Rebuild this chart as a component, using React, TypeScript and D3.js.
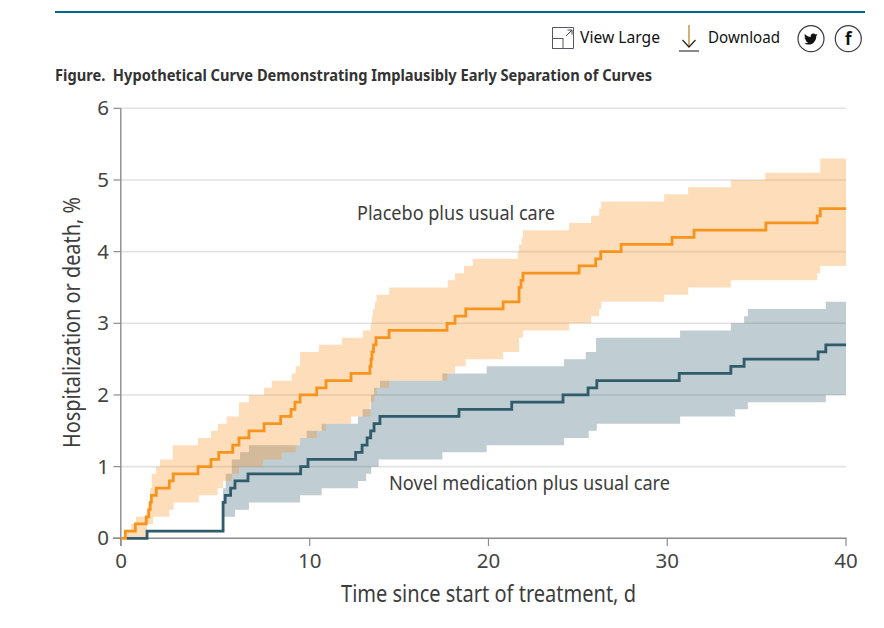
import React from "react";
import * as d3 from "d3";

const placeboDays = [0, 0.23, 0.76, 1.34, 1.47, 1.55, 1.61, 1.87, 2.56, 2.77, 4.08, 4.77, 5.18, 5.92, 6.25, 6.78, 7.58, 8.46, 9.01, 9.22, 9.49, 10.39, 10.91, 12.31, 13.37, 13.43, 13.48, 13.57, 13.71, 14.44, 17.68, 18.13, 18.73, 20.82, 21.71, 21.82, 21.93, 25.07, 26.0, 26.28, 27.42, 30.27, 31.5, 35.52, 38.39, 38.56, 40];
const placeboRisk = [0, 0.1, 0.2, 0.3, 0.4, 0.5, 0.6, 0.7, 0.8, 0.9, 1.0, 1.1, 1.2, 1.3, 1.4, 1.5, 1.6, 1.7, 1.8, 1.9, 2.0, 2.1, 2.2, 2.3, 2.4, 2.5, 2.6, 2.7, 2.8, 2.9, 3.0, 3.1, 3.2, 3.3, 3.5, 3.6, 3.7, 3.8, 3.9, 4.0, 4.1, 4.2, 4.3, 4.4, 4.5, 4.6, 4.6];

const placeboUpperDays = [0, 0.23, 0.53, 0.79, 1.36, 1.44, 1.54, 1.63, 1.86, 2.07, 2.74, 4.08, 4.77, 5.13, 5.6, 6.25, 6.78, 7.58, 7.99, 9.05, 9.26, 9.49, 10.52, 11.8, 12.98, 13.41, 13.48, 13.54, 13.65, 13.74, 14.44, 17.72, 18.13, 18.63, 19.12, 21.64, 21.71, 21.85, 21.93, 24.51, 25.74, 26.19, 26.3, 29.83, 31.17, 33.56, 35.48, 38.56, 40];
const placeboUpper = [0, 0.1, 0.2, 0.3, 0.4, 0.5, 0.7, 0.9, 1.0, 1.1, 1.3, 1.4, 1.5, 1.6, 1.7, 1.9, 2.0, 2.1, 2.2, 2.3, 2.4, 2.6, 2.7, 2.8, 2.9, 3.0, 3.1, 3.2, 3.3, 3.4, 3.5, 3.6, 3.7, 3.8, 3.9, 4.0, 4.1, 4.2, 4.3, 4.4, 4.5, 4.6, 4.7, 4.8, 4.9, 5.0, 5.1, 5.3, 5.3];

const placeboLowerDays = [0, 1.38, 1.7, 2.56, 2.79, 4.13, 5.12, 5.41, 5.87, 6.25, 7.53, 8.52, 9.26, 9.49, 10.39, 10.91, 12.31, 13.4, 13.6, 13.75, 14.45, 17.7, 18.13, 18.73, 20.82, 21.71, 21.93, 24.51, 25.74, 26.19, 26.3, 29.83, 31.17, 33.56, 38.39, 38.56, 40];
const placeboLower = [0, 0.2, 0.3, 0.4, 0.5, 0.6, 0.7, 0.8, 0.9, 1.0, 1.1, 1.2, 1.3, 1.4, 1.5, 1.6, 1.7, 1.9, 2.0, 2.1, 2.2, 2.3, 2.4, 2.5, 2.6, 2.8, 2.9, 3.0, 3.1, 3.2, 3.3, 3.4, 3.5, 3.6, 3.7, 3.8, 3.8];

const novelDays = [0.3, 1.38, 5.41, 5.52, 5.81, 6.04, 6.73, 9.52, 9.91, 12.57, 12.93, 13.21, 13.41, 13.6, 13.93, 18.35, 21.3, 24.17, 25.57, 26.06, 30.67, 33.56, 34.3, 38.44, 38.87, 40];
const novelRisk = [0, 0.1, 0.5, 0.6, 0.7, 0.8, 0.9, 1.0, 1.1, 1.2, 1.3, 1.4, 1.5, 1.6, 1.7, 1.8, 1.9, 2.0, 2.1, 2.2, 2.3, 2.4, 2.5, 2.6, 2.7, 2.7];

const novelUpperDays = [0.3, 1.38, 5.41, 5.55, 5.87, 6.31, 6.78, 9.49, 9.84, 10.67, 12.7, 12.96, 13.43, 13.6, 13.93, 17.42, 19.9, 24.23, 25.44, 26.02, 30.72, 33.56, 34.3, 34.51, 38.87, 40];
const novelUpper = [0, 0.1, 0.7, 0.9, 1.1, 1.2, 1.3, 1.4, 1.5, 1.6, 1.7, 1.8, 2.0, 2.1, 2.2, 2.3, 2.4, 2.5, 2.6, 2.8, 2.9, 3.0, 3.1, 3.2, 3.3, 3.3];

const novelLowerDays = [0.3, 1.38, 5.41, 6.04, 6.78, 9.49, 10.67, 12.7, 13.16, 13.44, 13.86, 17.42, 19.9, 24.23, 25.61, 26.06, 30.72, 33.8, 34.51, 38.87, 40];
const novelLower = [0, 0.1, 0.3, 0.4, 0.5, 0.6, 0.7, 0.8, 0.9, 1.0, 1.1, 1.2, 1.3, 1.4, 1.5, 1.6, 1.7, 1.8, 1.9, 2.0, 2.0];

const xTicks = [0, 10, 20, 30, 40];
const yTicks = [0, 1, 2, 3, 4, 5, 6];

const FONT = "'Noto Sans', sans-serif";
const ORANGE = "#f7941d";
const TEAL = "#2f5b6b";
const INK = "#3d3d3d";

const x = d3.scaleLinear().domain([0, 10, 40]).range([121, 309.7, 846]);
const y = d3.scaleLinear().domain([0, 6]).range([538.3, 108.3]);

type P = [number, number];
const pts = (t: number[], v: number[]): P[] => t.map((d, i) => [d, v[i]] as P);
const lineGen = d3.line<P>().x((d) => x(d[0])).y((d) => y(d[1])).curve(d3.curveStepAfter);

// Band: merged time axis, each bound read as a step function
function bandPath(ut: number[], uv: number[], lt: number[], lv: number[]) {
  const times = Array.from(new Set([...ut, ...lt])).sort((a, b) => a - b);
  const at = (t: number[], v: number[], d: number) => v[Math.max(0, d3.bisectRight(t, d) - 1)];
  const rows = times.map((d) => ({ d, hi: at(ut, uv, d), lo: at(lt, lv, d) }));
  return d3
    .area<{ d: number; hi: number; lo: number }>()
    .x((r) => x(r.d))
    .y0((r) => y(r.lo))
    .y1((r) => y(r.hi))
    .curve(d3.curveStepAfter)(rows) as string;
}

const TWITTER =
  "M23 5.5c-.8.4-1.7.6-2.6.7.9-.6 1.7-1.4 2-2.5-.9.5-1.9.9-2.9 1.1C18.6 3.9 17.4 3.3 16 3.3c-2.5 0-4.5 2-4.5 4.5 0 .4 0 .7.1 1C7.8 8.6 4.5 6.8 2.3 4.1c-.4.7-.6 1.4-.6 2.3 0 1.6.8 3 2 3.8-.7 0-1.4-.2-2-.6v.1c0 2.2 1.6 4 3.6 4.4-.4.1-.8.2-1.2.2-.3 0-.6 0-.8-.1.6 1.8 2.2 3.1 4.2 3.1-1.5 1.2-3.5 1.9-5.6 1.9-.4 0-.7 0-1.1-.1 2 1.3 4.4 2 6.9 2 8.3 0 12.8-6.9 12.8-12.8v-.6c.9-.6 1.6-1.4 2.2-2.3z";

export default function App() {
  return (
    <svg
      width={884}
      height={628}
      viewBox="0 0 884 628"
      style={{ position: "absolute", left: 0, top: 0, background: "#fff" }}
      fontFamily={FONT}
    >
      {/* page furniture */}
      <line x1={55} x2={865} y1={12} y2={12} stroke="#00698f" strokeWidth={2} />
      <g fill="none" stroke="#5a5468" strokeWidth={1}>
        <path d="M552.5 38.5V27.5H573.5V48.5H563" />
        <rect x={552.5} y={38.5} width={10.5} height={10} />
        <path d="M566 36L572 30M567.5 30H572V34.5" stroke="#444" />
      </g>
      <text x={580} y={43} fontSize={17} fill="#111" textLength={80} lengthAdjust="spacingAndGlyphs">View Large</text>
      <line x1={689} x2={689} y1={25} y2={47} stroke="#b9872b" strokeWidth={1.3} />
      <path d="M682.5 40L689 47L695.5 40" fill="none" stroke="#222" strokeWidth={1.2} />
      <line x1={679} x2={699} y1={51} y2={51} stroke="#555" strokeWidth={1.4} />
      <text x={708} y={43} fontSize={17} fill="#111" textLength={72} lengthAdjust="spacingAndGlyphs">Download</text>
      <circle cx={811} cy={38.7} r={13} fill="#fff" stroke="#3b3b45" strokeWidth={1.2} />
      <path d={TWITTER} transform="translate(803.5 31.5) scale(0.62)" fill="#111" />
      <circle cx={848.3} cy={38.7} r={13} fill="#fff" stroke="#3b3b45" strokeWidth={1.2} />
      <text x={848.3} y={45} fontSize={17} fontWeight={700} textAnchor="middle" fill="#111">f</text>

      <text x={55} y={80.5} fontSize={16.5} fontWeight={700} fill="#333" textLength={597} lengthAdjust="spacingAndGlyphs" xmlSpace="preserve">
        {"Figure.\u00a0\u00a0Hypothetical Curve Demonstrating Implausibly Early Separation of Curves"}
      </text>

      {/* grid */}
      {yTicks.filter((t) => t > 0).map((t) => (
        <line key={t} x1={121} x2={846} y1={y(t)} y2={y(t)} stroke="#e2e2e2" strokeWidth={1.6} />
      ))}

      {/* confidence bands */}
      <path d={bandPath(novelUpperDays, novelUpper, novelLowerDays, novelLower)} fill={TEAL} fillOpacity={0.3} />
      <path d={bandPath(placeboUpperDays, placeboUpper, placeboLowerDays, placeboLower)} fill="#fb8f1e" fillOpacity={0.3} />

      {/* axes */}
      <line x1={120.8} x2={120.8} y1={108.3} y2={546} stroke="#8c8c8c" strokeWidth={1.4} />
      <line x1={113} x2={846.5} y1={y(0)} y2={y(0)} stroke="#8c8c8c" strokeWidth={1.4} />
      {yTicks.map((t) => (
        <g key={t}>
          <line x1={113.5} x2={120.8} y1={y(t)} y2={y(t)} stroke="#8c8c8c" strokeWidth={1.2} />
          <text x={109} y={y(t) + 7} fontSize={20.5} textAnchor="end" fill="#444">{t}</text>
        </g>
      ))}
      {xTicks.map((t) => (
        <g key={t}>
          <line x1={x(t)} x2={x(t)} y1={y(0)} y2={546} stroke="#8c8c8c" strokeWidth={1.2} />
          <text x={x(t)} y={567.5} fontSize={20.5} textAnchor="middle" fill="#444">{t}</text>
        </g>
      ))}

      {/* curves */}
      <path d={lineGen(pts(novelDays, novelRisk)) as string} fill="none" stroke={TEAL} strokeWidth={2.8} />
      <path d={lineGen(pts(placeboDays, placeboRisk)) as string} fill="none" stroke={ORANGE} strokeWidth={2.8} />

      {/* labels */}
      <text x={357} y={220} fontSize={20} fill={INK} textLength={198} lengthAdjust="spacingAndGlyphs">Placebo plus usual care</text>
      <text x={389} y={490} fontSize={20} fill={INK} textLength={281} lengthAdjust="spacingAndGlyphs">Novel medication plus usual care</text>
      <text x={341} y={602} fontSize={23} fill={INK} textLength={295} lengthAdjust="spacingAndGlyphs">Time since start of treatment, d</text>
      <text transform="translate(80 448) rotate(-90)" fontSize={23} fill={INK} textLength={251} lengthAdjust="spacingAndGlyphs">Hospitalization or death, %</text>
    </svg>
  );
}
